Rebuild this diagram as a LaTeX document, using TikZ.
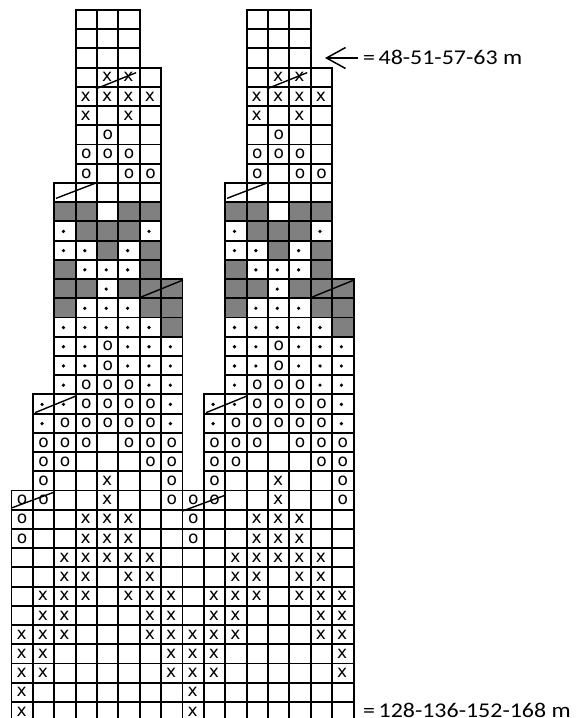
\documentclass[tikz,border=0pt]{standalone}
\usepackage{fontspec}
\newfontfamily\markfont{DejaVu Sans}
\newfontfamily\labelfont[FakeStretch=1.14]{Carlito}
\usetikzlibrary{arrows.meta, positioning}
\tikzset{
  stitchcell/.style={draw=black, line width=1.9pt},
  darkcell/.style={fill=black!50},
  stitchx/.style={inner sep=0pt, font=\markfont\fontsize{17}{17}\selectfont},
  stitcho/.style={inner sep=0pt, font=\markfont\fontsize{17}{17}\selectfont},
  stitchdot/.style={circle, fill=black, inner sep=0pt, minimum size=3.6pt},
  slash/.style={draw=black, line width=1.4pt},
  sizelabel/.style={anchor=west, inner sep=0pt, text height=13pt, text depth=0pt, font=\labelfont\fontsize{21}{21}\selectfont},
  pointer/.style={line width=1.5pt, shorten <=5pt, -{Straight Barb[length=19pt, width=21pt, line width=1.5pt]}}
}
\begin{document}
\begin{tikzpicture}[x=1pt, y=-1pt]

  \clip (0,0) rectangle (583,718);

  \foreach \off/\side in {0/l, 8/r} {
    \begin{scope}[x=21.38pt, y=-19.22pt, xshift=11.5pt+\off*21.38pt, yshift=-10pt]

      % dark squares
      \foreach \r/\cols in {10/{2,3,5,6}, 11/{3,4,5}, 12/{4,6}, 13/{2,6}, 14/{2,3,5,6,7}, 15/{2,6,7}, 16/{7}} {
        \foreach \c in \cols {
          \fill[darkcell] (\c,\r) rectangle ++(1,1);
        }
      }

      % outline of the chart, row by row
      \foreach \r/\first/\last in {0/3/5, 1/3/5, 2/3/5, 3/3/6, 4/3/6, 5/3/6, 6/3/6, 7/3/6, 8/3/6,
          9/2/6, 10/2/6, 11/2/6, 12/2/6, 13/2/6, 14/2/7, 15/2/7, 16/2/7, 17/2/7, 18/2/7, 19/2/7,
          20/1/7, 21/1/7, 22/1/7, 23/1/7, 24/1/7, 25/0/7, 26/0/7, 27/0/7, 28/0/7, 29/0/7, 30/0/7,
          31/0/7, 32/0/7, 33/0/7, 34/0/7, 35/0/7, 36/0/7} {
        \foreach \c in {\first,...,\last} {
          \draw[stitchcell] (\c,\r) rectangle ++(1,1);
        }
      }

      \foreach \r/\cols in {3/{4,5}, 4/{3,4,5,6}, 5/{3,5}, 24/{4}, 25/{4}, 26/{3,4,5}, 27/{3,4,5},
          28/{2,3,4,5,6}, 29/{2,3,5,6}, 30/{1,2,3,5,6,7}, 31/{1,2,6,7}, 32/{0,1,2,6,7},
          33/{0,1,7}, 34/{0,1,7}, 35/{0}, 36/{0}} {
        \foreach \c in \cols {
          \node[stitchx] (\side x\c-\r) at (\c+.47,\r+.5) {x};
        }
      }

      \foreach \r/\cols in {6/{4}, 7/{3,4,5}, 8/{3,5,6}, 17/{4}, 18/{4}, 19/{3,4,5}, 20/{3,4,5,6},
          21/{2,3,4,5,6}, 22/{1,2,3,5,6,7}, 23/{1,2,6,7}, 24/{1,7}, 25/{0,1,7}, 26/{0}, 27/{0}} {
        \foreach \c in \cols {
          \node[stitcho] (\side o\c-\r) at (\c+.5,\r+.5) {o};
        }
      }

      \foreach \r/\cols in {11/{2,6}, 12/{2,3,5}, 13/{3,4,5}, 14/{4}, 15/{3,4,5}, 16/{2,3,4,5,6},
          17/{2,3,5,6,7}, 18/{2,3,5,6,7}, 19/{2,6,7}, 20/{1,2,7}, 21/{1,7}} {
        \foreach \c in \cols {
          \node[stitchdot] (\side d\c-\r) at (\c+.43,\r+.52) {};
        }
      }

      \draw[slash] (3.95,4.1) -- (5.83,3.26);
      \draw[slash] (2.08,9.8) -- (3.95,9);
      \draw[slash] (5.92,15) -- (8.02,14.05);
      \draw[slash] (1.1,20.95) -- (3.02,20.08);
      \draw[slash] (0.02,25.9+\off*.02) -- (1.96,25.1+\off*.02);

    \end{scope}
  }

  \node[sizelabel] (upperlabel) at (363,58) {=\,48-51-57-63 m};
  \node[sizelabel] (lowerlabel) at (363,710.5) {=\,128-136-152-168 m};

  \coordinate (uppertip) at (325,58);
  \draw[pointer] (upperlabel) -- (uppertip);

\end{tikzpicture}
\end{document}
